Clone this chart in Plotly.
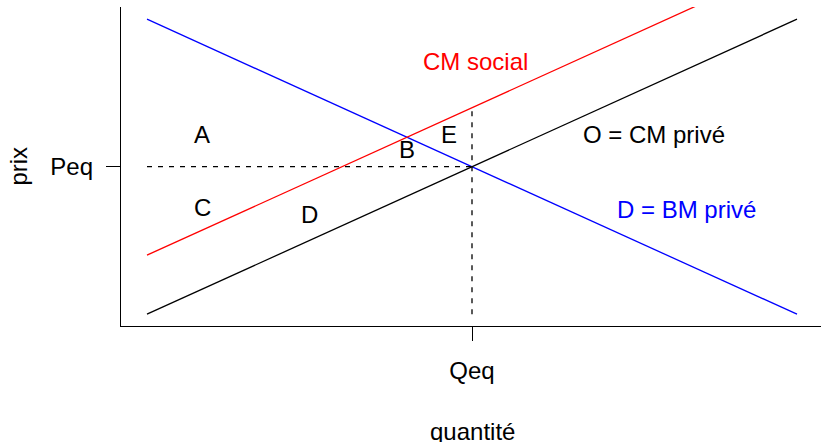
# Externalite negative : offre privee, cout marginal social et demande

import plotly.graph_objects as go

# quantites aux extremites des droites
q = [0, 10]
demande = [10, 0]      # D = BM prive
offre = [0, 10]        # O = CM prive
cm_social = [2, 12]    # CM social

q_eq = 5
p_eq = 5
p_social_eq = 7

# etiquettes des zones
zone_labels = ['A', 'B', 'E', 'C', 'D']
zone_x = [0.85, 4.0, 4.65, 0.85, 2.5]
zone_y = [6.08, 5.58, 6.08, 3.63, 3.38]

# etiquettes des courbes
curve_labels = ['CM social', 'O = CM privé', 'D = BM privé']
curve_x = [5.05, 7.8, 8.3]
curve_y = [8.58, 6.08, 3.55]
curve_colors = ['#FF0000', '#000000', '#0000FF']

font_family = 'Liberation Sans, Arial, sans-serif'
font_size = 24

fig = go.Figure()

fig.add_trace(go.Scatter(x=q, y=demande, mode='lines',
                         line=dict(color='#0000FF', width=1.3), showlegend=False))
fig.add_trace(go.Scatter(x=q, y=offre, mode='lines',
                         line=dict(color='#000000', width=1.3), showlegend=False))
fig.add_trace(go.Scatter(x=q, y=cm_social, mode='lines',
                         line=dict(color='#FF0000', width=1.3), showlegend=False))

# pointilles de l'equilibre
fig.add_trace(go.Scatter(x=[0, q_eq], y=[p_eq, p_eq], mode='lines',
                         line=dict(color='#000000', width=1.3, dash='5px,6px'), showlegend=False))
fig.add_trace(go.Scatter(x=[q_eq, q_eq], y=[0, p_social_eq], mode='lines',
                         line=dict(color='#000000', width=1.3, dash='5px,6px'), showlegend=False))

for lab, x, y in zip(zone_labels, zone_x, zone_y):
    fig.add_annotation(x=x, y=y, text=lab, showarrow=False,
                       font=dict(family=font_family, size=font_size, color='#000000'))

for lab, x, y, c in zip(curve_labels, curve_x, curve_y, curve_colors):
    fig.add_annotation(x=x, y=y, text=lab, showarrow=False,
                       font=dict(family=font_family, size=font_size, color=c))

# titres des axes
fig.add_annotation(xref='paper', yref='paper', x=(472 - 121) / 700, y=-0.33,
                   text='quantité', showarrow=False, yanchor='middle',
                   font=dict(family=font_family, size=font_size, color='#000000'))
fig.add_annotation(xref='paper', yref='paper', x=-0.147, y=0.5, textangle=-90,
                   text='prix', showarrow=False, xanchor='center',
                   font=dict(family=font_family, size=font_size, color='#000000'))

fig.update_layout(
    width=821, height=442,
    margin=dict(l=121, r=0, t=7, b=116, autoexpand=False),
    plot_bgcolor='white', paper_bgcolor='white',
    font=dict(family=font_family, size=font_size, color='#000000'),
)
fig.update_xaxes(range=[-0.4, -0.4 + 700 / 65], showgrid=False, zeroline=False,
                 showline=True, linecolor='#000000', linewidth=1.3, automargin=False,
                 ticks='outside', ticklen=14, tickwidth=1.3, tickcolor='#000000',
                 tickvals=[q_eq], ticktext=['Qeq'], ticklabelstandoff=9)
fig.update_yaxes(range=[-0.4, -0.4 + 319 / 29.5], showgrid=False, zeroline=False,
                 showline=True, linecolor='#000000', linewidth=1.3, automargin=False,
                 ticks='outside', ticklen=14, tickwidth=1.3, tickcolor='#000000',
                 tickvals=[p_eq], ticktext=['Peq'], ticklabelstandoff=8)

# la page a une marge de 8px par defaut, on l'enleve
fig.write_html("out.html", config={'displayModeBar': False},
               post_script="document.body.style.margin='0';")
